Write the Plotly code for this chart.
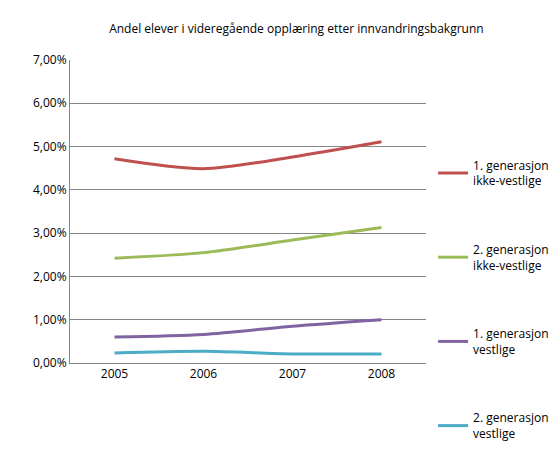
import plotly.graph_objects as go

years = ["2005", "2006", "2007", "2008"]
names = ["1. generasjon<br>ikke-vestlige", "2. generasjon<br>ikke-vestlige",
         "1. generasjon<br>vestlige", "2. generasjon<br>vestlige"]
red = [4.72, 4.49, 4.76, 5.11]
green = [2.42, 2.55, 2.84, 3.13]
purple = [0.60, 0.66, 0.85, 1.00]
cyan = [0.23, 0.27, 0.21, 0.21]
colors = ["#C0504D", "#9BBB59", "#8064A2", "#4BACC6"]

fig = go.Figure()
for i, (n, v, c) in enumerate(zip(names, [red, green, purple, cyan], colors)):
    fig.add_trace(go.Scatter(x=years, y=[x / 100 for x in v], name=n, mode="lines",
                             legendgroup="g%d" % i,
                             line=dict(color=c, width=3, shape="spline", smoothing=0.8)))

fig.update_layout(
    width=560, height=452, plot_bgcolor="white", paper_bgcolor="white",
    margin=dict(l=62, r=142, t=52, b=38),
    font=dict(family="Open Sans", size=12, color="#000"),
    title=dict(text="Andel elever i videregående opplæring etter innvandringsbakgrunn",
               x=0.11, xref="paper", xanchor="left", y=0.955, yanchor="middle",
               font=dict(size=12)),
    legend=dict(x=1.02, y=0.70, yanchor="top", tracegroupgap=50, font=dict(size=12),
                itemwidth=30, bgcolor="rgba(0,0,0,0)"),
    xaxis=dict(type="category", range=[-0.5, 3.5], showline=True, linecolor="#868686",
               ticks="", showgrid=False, tickfont=dict(size=12)),
    yaxis=dict(range=[0, 0.07], dtick=0.01, tickformat=".2%",
               showgrid=True, gridcolor="#868686", showline=True, linecolor="#868686",
               zeroline=False, tickfont=dict(size=12)),
    separators=", ",
)
fig.write_html("out.html")
